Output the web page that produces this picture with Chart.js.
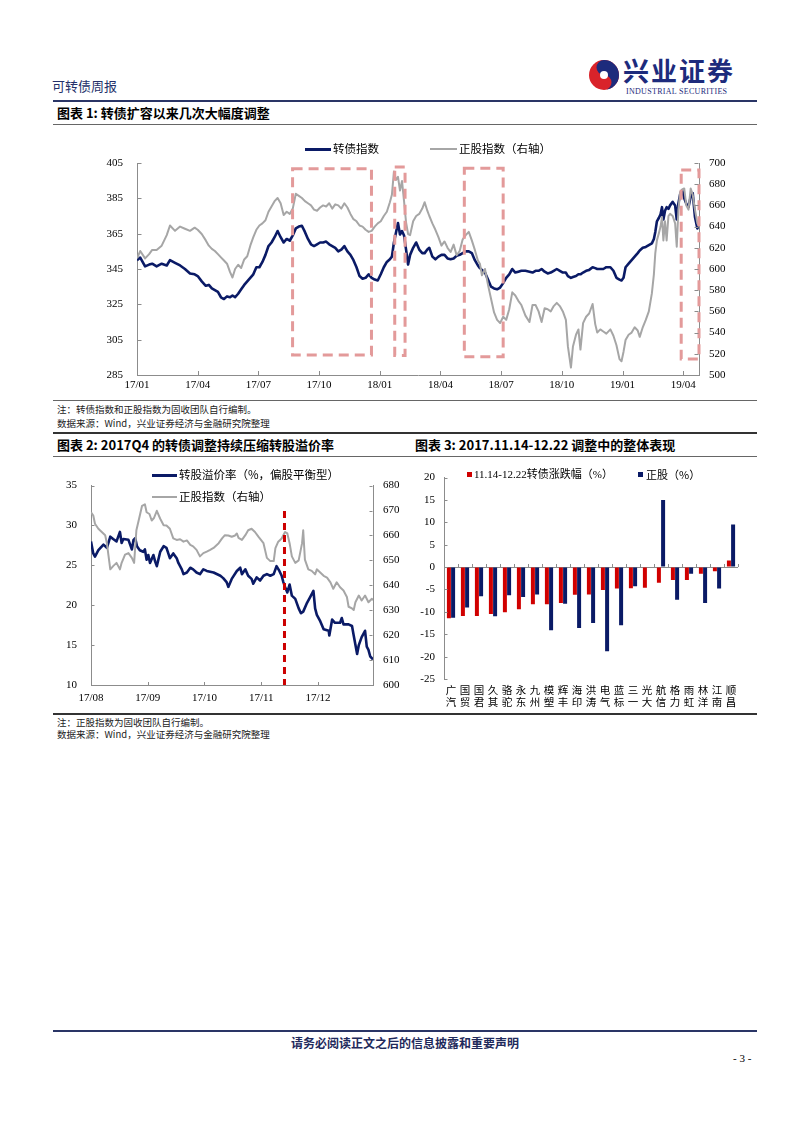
<!DOCTYPE html>
<html><head><meta charset="utf-8">
<script src="https://cdn.jsdelivr.net/npm/chart.js@4.4.1/dist/chart.umd.min.js"></script>
<style>
html,body{margin:0;padding:0;background:#fff;}
body{width:802px;height:1133px;position:relative;overflow:hidden;font-family:"Noto Sans CJK SC","Liberation Serif",sans-serif;color:#000;}
.t{position:absolute;white-space:nowrap;line-height:1;}
.ln{position:absolute;}
canvas{position:absolute;}
.lg{position:absolute;z-index:2;}
</style></head><body>

<!-- header -->
<div class="t" style="left:52px;top:79px;font-size:13px;color:#24306a;">可转债周报</div>
<svg class="lg" style="left:588px;top:58px" width="32" height="34" viewBox="0 0 32 34">
  <circle cx="16" cy="17" r="15" fill="#d9232a"/>
  <path d="M16 2 A15 15 0 0 1 16 32 A7.5 7.5 0 0 0 16 17 A7.5 7.5 0 0 1 16 2Z" fill="#1d2b7c"/>
  <circle cx="16" cy="17" r="4" fill="#fff"/>
</svg>
<div class="t" style="left:623px;top:57px;font-size:26px;font-weight:bold;color:#1d2b7c;letter-spacing:2px;">兴业证券</div>
<div class="t" style="left:626px;top:88px;font-size:8px;font-family:'Liberation Serif',serif;color:#1d2b7c;letter-spacing:0.3px;">INDUSTRIAL SECURITIES</div>
<div class="ln" style="left:53px;top:100px;width:704px;height:2px;background:#2a3566;"></div>
<div class="t" style="left:57px;top:106px;font-size:13px;font-weight:bold;">图表 1: 转债扩容以来几次大幅度调整</div>
<div class="ln" style="left:53px;top:124px;width:704px;height:1px;background:#666;"></div>

<!-- chart 1 legend -->
<div class="ln lg" style="left:305px;top:148px;width:26px;height:3px;background:#0a1a66;"></div>
<div class="t lg" style="left:333px;top:143px;font-size:11.5px;">转债指数</div>
<div class="ln lg" style="left:430px;top:148px;width:27px;height:2px;background:#a6a6a6;"></div>
<div class="t lg" style="left:459px;top:143px;font-size:11.5px;">正股指数（右轴）</div>
<canvas id="c1" width="700" height="260" style="left:60px;top:140px;"></canvas>

<div class="ln" style="left:53px;top:400px;width:704px;height:1px;background:#666;"></div>
<div class="t" style="left:57px;top:405px;font-size:9.5px;color:#222;">注：转债指数和正股指数为固收团队自行编制。</div>
<div class="t" style="left:57px;top:419px;font-size:9.5px;color:#222;">数据来源：Wind，兴业证券经济与金融研究院整理</div>
<div class="ln" style="left:53px;top:432px;width:704px;height:2px;background:#333;"></div>
<div class="t" style="left:57px;top:438px;font-size:13px;font-weight:bold;">图表 2: 2017Q4 的转债调整持续压缩转股溢价率</div>
<div class="t" style="left:415px;top:438px;font-size:13px;font-weight:bold;">图表 3: 2017.11.14-12.22 调整中的整体表现</div>
<div class="ln" style="left:53px;top:456px;width:704px;height:1px;background:#666;"></div>

<!-- chart 2 legend -->
<div class="ln lg" style="left:152px;top:474px;width:25px;height:3px;background:#0a1a66;"></div>
<div class="t lg" style="left:179px;top:469px;font-size:11.5px;">转股溢价率（%，偏股平衡型）</div>
<div class="ln lg" style="left:152px;top:496px;width:25px;height:2px;background:#a6a6a6;"></div>
<div class="t lg" style="left:179px;top:491px;font-size:11.5px;">正股指数（右轴）</div>
<canvas id="c2" width="352" height="247" style="left:50px;top:465px;"></canvas>

<!-- chart 3 legend -->
<div class="ln lg" style="left:467px;top:472px;width:5px;height:5px;background:#d00000;"></div>
<div class="t lg" style="left:474px;top:469px;font-size:11px;font-family:'Liberation Serif','Noto Sans CJK SC',serif;">11.14-12.22转债涨跌幅（%）</div>
<div class="ln lg" style="left:638px;top:472px;width:5px;height:5px;background:#0a1a66;"></div>
<div class="t lg" style="left:646px;top:469px;font-size:11px;">正股（%）</div>
<canvas id="c3" width="360" height="250" style="left:400px;top:462px;"></canvas>

<div class="ln" style="left:53px;top:713px;width:704px;height:2px;background:#333;"></div>
<div class="t" style="left:57px;top:718px;font-size:9.5px;color:#222;">注：正股指数为固收团队自行编制。</div>
<div class="t" style="left:57px;top:730px;font-size:9.5px;color:#222;">数据来源：Wind，兴业证券经济与金融研究院整理</div>

<!-- footer -->
<div class="ln" style="left:53px;top:1030px;width:704px;height:2px;background:#2a3566;"></div>
<div class="t" style="left:0;width:810px;text-align:center;top:1037px;font-size:12px;font-weight:bold;color:#1f2a5c;">请务必阅读正文之后的信息披露和重要声明</div>
<div class="t" style="left:733px;top:1053px;font-size:11px;font-family:'Liberation Serif',serif;">- 3 -</div>

<script>
// ---------- Chart 1 data (time in months since 2017-01-01) ----------
const c1TickLabels = ['17/01','17/04','17/07','17/10','18/01','18/04','18/07','18/10','19/01','19/04'];
const c1Time = [
 0,0.16,0.4,0.6,0.75,0.97,1.22,1.47,1.63,1.88,2.13,2.37,2.62,2.85,
 3,3.2,3.4,3.55,3.7,3.85,4,4.15,4.3,4.45,4.6,4.72,4.85,5,5.15,5.3,5.45,5.6,5.75,5.9,
 6.05,6.2,6.35,6.5,6.65,6.8,6.95,7.1,7.25,7.4,7.55,7.7,7.85,8,8.15,8.3,8.45,8.6,8.75,8.9,
 9.05,9.2,9.35,9.5,9.65,9.8,9.95,10.1,10.25,10.4,10.55,10.7,10.85,11,11.15,11.3,11.45,11.6,11.75,11.9,
 12.05,12.2,12.35,12.5,12.6,12.7,12.8,12.9,13,13.1,13.2,13.3,13.4,13.5,13.65,13.8,13.95,14.1,14.22,14.35,14.45,14.6,14.75,14.9,
 15.05,15.2,15.35,15.5,15.65,15.8,15.95,16.1,16.25,16.4,16.55,16.7,16.85,16.95,17.05,17.2,17.35,17.5,17.65,17.8,17.95,
 18.1,18.25,18.4,18.55,18.7,18.85,19,19.2,19.4,19.55,19.7,19.85,20,20.15,20.3,20.45,20.6,20.75,20.9,
 21.05,21.2,21.3,21.45,21.55,21.7,21.82,21.92,22.05,22.2,22.35,22.52,22.65,22.75,22.9,23.05,23.2,23.4,23.55,23.7,23.85,23.95,
 24.05,24.15,24.3,24.45,24.6,24.75,24.85,25,25.15,25.3,25.45,25.55,25.62,25.7,25.8,25.88,25.95,26.02,26.1,26.18,26.27,26.35,26.48,26.6,26.68,26.76,26.85,26.95,27.05,27.15,27.26,27.37,27.47,27.58,27.7,27.78
];
const c1CB = [
 350,351.5,346.5,347.5,348,346.5,348,347,350,348.5,347,345,342.5,342,
 341,338,335.5,336,334,333,332,329,328,329.5,329,330,329,331,333.5,336,338,340,342,346,
 346,349,353,358,360,363,366.5,363,360,362,361,364,368,369,369.5,366,362,359,358,359,
 360,360,360.5,359,358,357,355,356,358,355,353,350,346,341,339.5,340,342,340,339,338.5,
 342,346,349,350.5,352,360,365.5,371,364.5,366.5,364,356,347.5,353,357,360,356,354,354,356,357,352,350.5,352,
 353,353,351,350.5,351,352.5,353,354,355,355,354,350,347,345.5,344.5,343,339,335,334,333.5,334.5,
 337,340,342,345,343,343.5,344,344,343.5,343,344,344,345,343.5,342.5,343,344,345,344,
 343,343,341,340,340.5,341,342,342,343,344,344.5,346,345.5,345,345,345,346,346,344,340,339,338.5,
 340,346,348,350,352,354,355.5,357,357.5,358.5,359.5,362,366,372,374,376,380,373,378,380,379,381,383,381,373,382,387.5,389.5,385,382,380,386,388,374.5,368,370
];
const c1Stock = [
 610,617,610,614,618,618,622,632,641,636,640,638,636,639,
 637,633,627,622,619,617,614,611,608,605,597,592,600,604,601,609,612,622,630,637,
 641,643,646,654,659,664,667,662,651,654,652,657,671,669,667,664,662,660,656,655,
 658,660,659,662,657,661,660,657,662,658,652,647,645,641,640,637,635,636,640,643,
 645,650,654,663,670,692,684,687,674,683,664,644,633,632,645,650,652,657,663,655,650,643,637,630,
 622,626,620,616,623,613,617,628,632,635,627,618,608,605,594,600,585,572,559,552,549,
 555,552,562,578,575,570,566,556,550,566,566,560,550,563,562,560,565,568,565,
 560,552,527,507,527,538,543,524,549,555,558,567,548,540,543,541,539,543,537,528,515,513,
 522,533,538,540,545,542,536,545,552,560,577,595,615,627,634,640,649,627,645,627,650,652,650,643,621,655,673,675,676,660,656,676,670,656,643,640
];
// adjustment windows marked on chart 1 (time range in months, left-axis value range)
const c1Windows = [
 {from:7.69, to:11.59, low:296.3, high:401.8},
 {from:12.74, to:13.25, low:296, high:402.7},
 {from:16.18, to:18.1, low:295.4, high:402},
 {from:26.9, to:27.78, low:294, high:401}
];

// ---------- Chart 2 data (time in months since 2017-08-01) ----------
const c2TickLabels = ['17/08','17/09','17/10','17/11','17/12'];
const c2PremTime = [0,0.04,0.07,0.13,0.22,0.28,0.34,0.39,0.45,0.51,0.54,0.57,0.66,0.72,0.75,0.78,0.81,0.86,0.92,0.95,0.98,1.01,1.04,1.1,1.13,1.16,1.22,1.28,1.33,1.39,1.45,1.51,1.54,1.6,1.63,1.69,1.75,1.8,1.86,1.92,1.98,2.04,2.16,2.28,2.33,2.39,2.42,2.48,2.57,2.63,2.66,2.72,2.77,2.83,2.86,2.92,2.98,3.04,3.1,3.16,3.22,3.27,3.32,3.36,3.39,3.42,3.46,3.5,3.54,3.6,3.66,3.7,3.74,3.8,3.86,3.92,3.95,3.98,4.04,4.1,4.19,4.2,4.25,4.3,4.39,4.42,4.45,4.54,4.6,4.63,4.69,4.72,4.77,4.83,4.86,4.89,4.92,4.97];
const c2Prem = [28.0,26.5,26.1,26.9,27.6,27.2,28.6,28.3,28.0,29.2,27.8,28.3,28.2,27.0,28.2,28.4,27.4,26.9,26.7,27.0,25.7,26.3,25.3,26.3,25.5,24.9,26.7,27.4,27.2,25.9,26.5,25.9,25.3,24.5,23.9,24.1,24.7,24.5,24.1,23.9,24.5,24.3,24.1,23.7,23.4,22.9,22.3,23.3,24.3,24.7,23.9,24.5,23.7,23.3,22.7,23.5,23.1,23.7,23.9,23.7,23.9,24.9,24.3,23.7,22.9,22.3,21.6,22.6,21.2,20.8,19.6,19.0,19.2,20.2,21.0,21.8,19.6,18.8,18.0,17.0,16.8,16.2,18.2,17.8,17.8,18.4,17.6,17.6,17.4,16.2,13.9,15.0,16.0,16.8,14.8,14.4,13.6,13.2];
const c2StockTime = [0,0.04,0.07,0.13,0.19,0.25,0.28,0.31,0.34,0.39,0.45,0.51,0.54,0.6,0.66,0.72,0.76,0.8,0.84,0.9,0.95,0.98,1.03,1.07,1.11,1.16,1.22,1.28,1.33,1.39,1.45,1.51,1.57,1.63,1.69,1.75,1.8,1.86,1.92,1.98,2.04,2.1,2.16,2.25,2.31,2.36,2.42,2.48,2.54,2.57,2.6,2.66,2.72,2.77,2.83,2.89,2.95,3.04,3.1,3.16,3.22,3.25,3.3,3.36,3.42,3.46,3.5,3.54,3.6,3.66,3.72,3.74,3.77,3.83,3.89,3.95,3.98,4.04,4.1,4.16,4.22,4.27,4.33,4.39,4.45,4.51,4.54,4.6,4.63,4.66,4.72,4.77,4.83,4.89,4.95,4.97];
const c2Stock = [669.3,668,664.7,662.7,661.4,660.1,656.9,651.6,646.4,647.7,649,646.4,649,652.3,652.9,651,649,662.1,666,671.9,672.5,669.3,668.6,666,667,669.9,666.7,664.1,664,662.7,658.8,658.2,658.5,657.5,658,656.2,655.6,654.2,651.6,652.9,653.5,654.2,655,656.9,658.8,660.1,660,659.5,660,660.8,659,658.2,660.1,662.1,662.7,661.4,659.5,656.9,651,649.7,649.7,654.9,657.5,658.8,661.4,660.8,656.9,651.6,649,650,656.9,662.1,650.3,646.4,645.8,644.4,646.4,645.1,643.8,643.1,641.2,638.6,641.2,639.2,637.9,635.3,631.4,630.7,630.1,633.2,635.9,633.9,635.9,633.2,634.6,634];
// 2017-11-14 marker (time in months, left-axis value range)
const c2Marker = {at:3.41, low:10, high:31.8};

// ---------- Chart 3 data ----------
const c3Names = ['广汽','国贸','国君','久其','骆驼','永东','九州','模塑','辉丰','海印','洪涛','电气','蓝标','三一','光大','航信','格力','雨虹','林洋','江南','顺昌'];
const c3CB = [-11.4,-10.9,-10.9,-10.5,-10.1,-9.4,-8.3,-8.3,-8.0,-6.2,-6.1,-5.1,-4.8,-4.7,-4.6,-3.5,-2.9,-2.9,-1.5,-0.9,1.5];
const c3Stock = [-11.3,-9.0,-6.5,-11.0,-6.3,-6.7,-6.1,-14.1,-8.2,-13.6,-12.5,-18.8,-13.0,-4.3,0,15.0,-7.3,-1.5,-8.0,-4.8,9.5];

// ---------- styles ----------
const NAVY = '#0a1a66', GRAY = '#a6a6a6', RED = '#d00000', AX = '#8c8c8c';
const NUMFONT = {family:'"Liberation Serif","Noto Sans CJK SC",serif', size:11};
Chart.defaults.color = '#000';

const monthsFrom = (lbl, baseY, baseM) => { const [y,m] = lbl.split('/').map(Number); return (y-baseY)*12 + (m-baseM); };

const inTicks = {
  id:'inTicks',
  afterDraw(chart, args, opts){
    const ctx = chart.ctx, ca = chart.chartArea, len = opts.len || 4;
    ctx.save(); ctx.strokeStyle = AX; ctx.lineWidth = 1;
    (opts.axes || []).forEach(id => {
      const s = chart.scales[id];
      s.ticks.forEach((t,i) => {
        const p = Math.round(s.getPixelForTick(i)) + 0.5;
        ctx.beginPath();
        if (s.isHorizontal()) { const y = Math.round(ca.bottom); ctx.moveTo(p,y); ctx.lineTo(p,y-len); }
        else if (s.position === 'left') { const x = Math.round(ca.left)+0.5; ctx.moveTo(x,p); ctx.lineTo(x+len,p); }
        else { const x = Math.round(ca.right)-0.5; ctx.moveTo(x,p); ctx.lineTo(x-len,p); }
        ctx.stroke();
      });
    });
    ctx.restore();
  }
};

const windowsPlugin = {
  id:'windows',
  afterDatasetsDraw(chart){
    const ctx = chart.ctx, x = chart.scales.x, y = chart.scales.yL;
    ctx.save(); ctx.strokeStyle = '#e39a9a'; ctx.lineWidth = 3; ctx.setLineDash([10,6]);
    c1Windows.forEach(w => {
      const x0 = x.getPixelForValue(w.from), x1 = x.getPixelForValue(w.to);
      const y0 = y.getPixelForValue(w.high), y1 = y.getPixelForValue(w.low);
      ctx.strokeRect(x0, y0, x1-x0, y1-y0);
    });
    ctx.restore();
  }
};

const markerPlugin = {
  id:'marker',
  afterDatasetsDraw(chart){
    const ctx = chart.ctx, x = chart.scales.x, y = chart.scales.yL;
    const px = x.getPixelForValue(c2Marker.at);
    ctx.save(); ctx.strokeStyle = '#cc0000'; ctx.lineWidth = 3; ctx.setLineDash([7,5]);
    ctx.beginPath(); ctx.moveTo(px, y.getPixelForValue(c2Marker.high)); ctx.lineTo(px, y.getPixelForValue(c2Marker.low)); ctx.stroke();
    ctx.restore();
  }
};

const zeroTicks = {
  id:'zeroTicks',
  afterDraw(chart){
    const ctx = chart.ctx, x = chart.scales.x, y = chart.scales.y;
    const y0 = Math.round(y.getPixelForValue(0));
    const w = (x.right - x.left) / c3Names.length;
    ctx.save(); ctx.strokeStyle = AX; ctx.lineWidth = 1;
    for (let i = 1; i <= c3Names.length; i++) {
      const px = Math.round(x.left + i*w) + 0.5;
      ctx.beginPath(); ctx.moveTo(px, y0); ctx.lineTo(px, y0-3); ctx.stroke();
    }
    ctx.restore();
  }
};

const xy = (ts, vs) => ts.map((t,i) => ({x:t, y:vs[i]}));

// ---------- Chart 1 ----------
new Chart(document.getElementById('c1'), {
  type:'line',
  data:{datasets:[
    {label:'转债指数', data:xy(c1Time,c1CB), borderColor:NAVY, borderWidth:2.6, pointRadius:0, yAxisID:'yL', order:1, borderJoinStyle:'round'},
    {label:'正股指数（右轴）', data:xy(c1Time,c1Stock), borderColor:GRAY, borderWidth:2, pointRadius:0, yAxisID:'yR', order:0, borderJoinStyle:'round'}
  ]},
  options:{
    responsive:false, animation:false, devicePixelRatio:1,
    layout:{padding:{top:23,left:0,right:0,bottom:0}},
    plugins:{legend:{display:false}, tooltip:{enabled:false}, inTicks:{axes:['x','yL','yR']}},
    scales:{
      x:{type:'linear', min:0, max:27.78,
         afterBuildTicks:s => { s.ticks = c1TickLabels.map(l => ({value:monthsFrom(l,17,1)})); },
         ticks:{callback:(v,i) => c1TickLabels[i], autoSkip:false, maxRotation:0, padding:4, font:NUMFONT},
         grid:{display:false, drawTicks:false}, border:{color:AX},
         afterFit:s => { s.height = 25; }},
      yL:{position:'left', min:285, max:405, ticks:{stepSize:20, padding:14, font:NUMFONT},
          grid:{display:false, drawTicks:false}, border:{color:AX}, afterFit:s => { s.width = 77; }},
      yR:{position:'right', min:500, max:700, ticks:{stepSize:20, padding:10, font:NUMFONT},
          grid:{display:false, drawTicks:false}, border:{color:AX}, afterFit:s => { s.width = 61; }}
    }
  },
  plugins:[windowsPlugin, inTicks]
});

// ---------- Chart 2 ----------
new Chart(document.getElementById('c2'), {
  type:'line',
  data:{datasets:[
    {label:'转股溢价率（%，偏股平衡型）', data:xy(c2PremTime,c2Prem), borderColor:NAVY, borderWidth:2.6, pointRadius:0, yAxisID:'yL', order:1, borderJoinStyle:'round'},
    {label:'正股指数（右轴）', data:xy(c2StockTime,c2Stock), borderColor:GRAY, borderWidth:2, pointRadius:0, yAxisID:'yR', order:0, borderJoinStyle:'round'}
  ]},
  options:{
    responsive:false, animation:false, devicePixelRatio:1,
    layout:{padding:{top:16,left:0,right:0,bottom:0}},
    plugins:{legend:{display:false}, tooltip:{enabled:false}, inTicks:{axes:['x','yL','yR'], len:3}},
    scales:{
      x:{type:'linear', min:0, max:4.97,
         afterBuildTicks:s => { s.ticks = c2TickLabels.map(l => ({value:monthsFrom(l,17,8)})); },
         ticks:{callback:(v,i) => c2TickLabels[i], autoSkip:false, maxRotation:0, padding:7, font:NUMFONT},
         grid:{display:false, drawTicks:false}, border:{color:AX},
         afterFit:s => { s.height = 27; }},
      yL:{position:'left', min:10, max:35, ticks:{stepSize:5, padding:14, font:NUMFONT},
          grid:{display:false, drawTicks:false}, border:{color:AX}, afterFit:s => { s.width = 41; }},
      yR:{position:'right', min:600, max:680, ticks:{stepSize:10, padding:10, font:NUMFONT},
          grid:{display:false, drawTicks:false}, border:{color:AX}, afterFit:s => { s.width = 29; }}
    }
  },
  plugins:[markerPlugin, inTicks]
});

// ---------- Chart 3 ----------
new Chart(document.getElementById('c3'), {
  type:'bar',
  data:{labels:c3Names.map(n => n.split('')), datasets:[
    {label:'11.14-12.22转债涨跌幅（%）', data:c3CB, backgroundColor:RED, barPercentage:0.95, categoryPercentage:0.6},
    {label:'正股（%）', data:c3Stock, backgroundColor:NAVY, barPercentage:0.95, categoryPercentage:0.6}
  ]},
  options:{
    responsive:false, animation:false, devicePixelRatio:1,
    layout:{padding:{top:10,left:0,right:22,bottom:0}},
    plugins:{legend:{display:false}, tooltip:{enabled:false}, inTicks:{axes:['y'], len:3}},
    scales:{
      x:{ticks:{autoSkip:false, maxRotation:0, padding:6, font:{family:'"Noto Sans CJK SC",sans-serif', size:10.5, lineHeight:1.05}},
         grid:{display:false, drawTicks:false}, border:{display:false},
         afterFit:s => { s.height = 33; }},
      y:{min:-25, max:20, ticks:{stepSize:5, padding:9, font:NUMFONT},
         grid:{drawTicks:false, color:c => c.tick && c.tick.value === 0 ? AX : 'rgba(0,0,0,0)'},
         border:{color:AX}, afterFit:s => { s.width = 44; }}
    }
  },
  plugins:[zeroTicks, inTicks]
});
</script>
</body></html>
